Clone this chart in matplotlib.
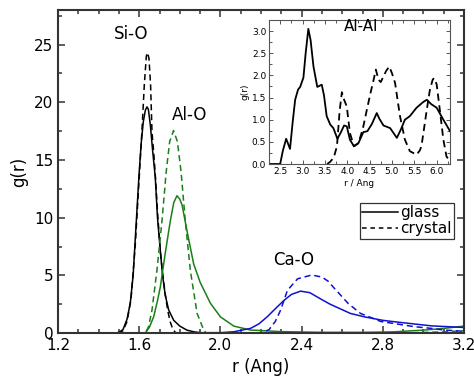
import numpy as np
import matplotlib.pyplot as plt
from matplotlib.ticker import MultipleLocator

# ---- main panel: partial g(r), glass vs crystal ----
sio_glass_r = [1.20, 1.48, 1.50, 1.52, 1.54, 1.556, 1.57, 1.58, 1.59, 1.60, 1.61, 1.62, 1.63, 1.638,
               1.645, 1.655, 1.665, 1.679, 1.69, 1.704, 1.715, 1.728, 1.745, 1.77, 1.80, 1.835, 1.87, 1.90, 1.95, 3.20]
sio_glass_g = [0, 0, 0.05, 0.3, 1.2, 2.6, 5.0, 8.0, 11.0, 14.0, 16.5, 18.3, 19.3, 19.6,
               19.4, 18.0, 16.0, 13.5, 10.0, 7.1, 5.0, 3.3, 2.0, 1.1, 0.6, 0.25, 0.1, 0.03, 0, 0]

sio_cryst_r = [1.20, 1.50, 1.52, 1.54, 1.56, 1.58, 1.60, 1.613, 1.625, 1.635, 1.641, 1.648, 1.656, 1.663,
               1.672, 1.68, 1.69, 1.704, 1.715, 1.727, 1.74, 1.752, 1.765, 1.778, 1.79, 3.20]
sio_cryst_g = [0, 0, 0.2, 1.0, 3.0, 7.5, 13.5, 17.4, 21.5, 24.0, 24.3, 23.8, 21.5, 17.4,
               15.5, 13.5, 10.5, 7.1, 5.2, 3.5, 2.0, 1.0, 0.35, 0.05, 0, 0]

alo_glass_r = [1.20, 1.63, 1.65, 1.671, 1.69, 1.704, 1.728, 1.753, 1.77, 1.786, 1.80, 1.811, 1.836, 1.868,
               1.90, 1.95, 2.00, 2.066, 2.148, 2.30, 2.50, 2.70, 2.85, 3.00, 3.10, 3.20]
alo_glass_g = [0, 0, 0.5, 1.4, 2.8, 4.0, 6.9, 9.7, 11.3, 11.9, 11.6, 11.1, 8.8, 6.0,
               4.4, 2.6, 1.4, 0.6, 0.26, 0.12, 0.06, 0.06, 0.1, 0.25, 0.4, 0.6]

alo_cryst_r = [1.20, 1.63, 1.646, 1.663, 1.687, 1.712, 1.733, 1.75, 1.769, 1.788, 1.806, 1.827, 1.852,
               1.885, 1.918, 1.93, 2.90, 3.10, 3.20]
alo_cryst_g = [0, 0, 0.55, 2.0, 5.4, 9.7, 14.0, 16.6, 17.55, 16.6, 14.0, 9.7, 5.4,
               1.7, 0.25, 0, 0, 0.1, 0.2]

cao_glass_r = [1.20, 2.00, 2.066, 2.148, 2.19, 2.23, 2.27, 2.313, 2.35, 2.395, 2.44, 2.494, 2.54,
               2.64, 2.71, 2.80, 2.87, 3.04, 3.20]
cao_glass_g = [0, 0.03, 0.11, 0.4, 0.8, 1.4, 2.1, 2.83, 3.35, 3.63, 3.5, 2.95, 2.5,
               1.7, 1.4, 1.1, 0.95, 0.62, 0.48]

cao_cryst_r = [1.20, 2.20, 2.24, 2.27, 2.296, 2.33, 2.38, 2.45, 2.50, 2.53, 2.56, 2.63, 2.69, 2.79,
               2.955, 3.04, 3.10, 3.20]
cao_cryst_g = [0, 0, 0.3, 1.0, 1.97, 3.7, 4.7, 5.03, 4.85, 4.5, 3.9, 2.55, 1.7, 1.0,
               0.55, 0.4, 0.26, 0.15]

# ---- inset: Al-Al ----
alal_glass_r = [2.25, 2.50, 2.56, 2.634, 2.72, 2.78, 2.835, 2.90, 2.947, 3.02, 3.07, 3.13, 3.18, 3.245,
                3.33, 3.43, 3.48, 3.54, 3.62, 3.69, 3.78, 3.86, 3.93, 3.99, 4.06, 4.15, 4.25, 4.36,
                4.45, 4.55, 4.66, 4.72, 4.81, 4.96, 5.11, 5.20, 5.29, 5.40, 5.55, 5.70, 5.78, 5.88,
                6.00, 6.15, 6.30]
alal_glass_g = [0, 0, 0.3, 0.57, 0.34, 0.95, 1.45, 1.68, 1.74, 1.95, 2.5, 3.05, 2.8, 2.2,
                1.74, 1.79, 1.55, 1.08, 0.89, 0.81, 0.57, 0.72, 0.87, 0.85, 0.55, 0.4, 0.47, 0.72,
                0.74, 0.9, 1.15, 1.02, 0.87, 0.81, 0.59, 0.78, 1.0, 1.08, 1.27, 1.4, 1.45, 1.35,
                1.27, 1.0, 0.74]

alal_cryst_r = [3.55, 3.62, 3.70, 3.77, 3.83, 3.88, 3.93, 3.99, 4.06, 4.15, 4.25, 4.35, 4.44, 4.52,
                4.59, 4.64, 4.70, 4.75, 4.87, 4.94, 5.00, 5.07, 5.18, 5.29, 5.40, 5.55, 5.62, 5.66,
                5.78, 5.85, 5.91, 5.94, 6.00, 6.07, 6.15, 6.22, 6.30]
alal_cryst_g = [0, 0.05, 0.15, 0.4, 1.2, 1.62, 1.45, 1.3, 0.7, 0.4, 0.47, 0.8, 1.23, 1.6,
                1.9, 2.13, 1.9, 1.85, 2.1, 2.2, 2.05, 1.83, 1.08, 0.55, 0.29, 0.21, 0.3, 0.4,
                1.23, 1.68, 1.9, 1.94, 1.8, 1.23, 0.55, 0.17, 0.06]

dash = (0, (4, 2.5))

fig = plt.figure(figsize=(4.74, 3.85), dpi=100)
ax = fig.add_axes([0.1224, 0.135, 0.8566, 0.839])

ax.plot(sio_glass_r, sio_glass_g, color='black', lw=1.1)
ax.plot(sio_cryst_r, sio_cryst_g, color='black', lw=1.1, ls=dash)
ax.plot(alo_glass_r, alo_glass_g, color='#1a7f1a', lw=1.1)
ax.plot(alo_cryst_r, alo_cryst_g, color='#1a7f1a', lw=1.1, ls=dash)
ax.plot(cao_glass_r, cao_glass_g, color='#1010d0', lw=1.1)
ax.plot(cao_cryst_r, cao_cryst_g, color='#1010d0', lw=1.1, ls=dash)

ax.set_xlim(1.2, 3.2)
ax.set_ylim(0, 28)
ax.xaxis.set_major_locator(MultipleLocator(0.4))
ax.xaxis.set_minor_locator(MultipleLocator(0.1))
ax.yaxis.set_major_locator(MultipleLocator(5))
ax.yaxis.set_minor_locator(MultipleLocator(2.5))
ax.tick_params(which='both', direction='in', top=True, right=True, labelsize=11, width=1.1, color='#333333')
ax.tick_params(which='major', length=5)
ax.tick_params(which='minor', length=3)
for s in ax.spines.values():
    s.set_linewidth(1.5)
    s.set_color('#333333')
ax.set_xlabel('r (Ang)', fontsize=12)
ax.set_ylabel('g(r)', fontsize=12)

ax.text(1.56, 25.9, 'Si-O', fontsize=12, ha='center', va='center')
ax.text(1.85, 18.9, 'Al-O', fontsize=12, ha='center', va='center')
ax.text(2.36, 6.3, 'Ca-O', fontsize=12, ha='center', va='center')

# legend handles
h1, = ax.plot([], [], color='black', lw=1.1, label='glass')
h2, = ax.plot([], [], color='black', lw=1.1, ls=(0, (3, 2.5)), label='crystal')
leg = ax.legend(handles=[h1, h2], loc='upper left', bbox_to_anchor=(0.744, 0.402), fontsize=11,
                frameon=True, fancybox=False, handlelength=2.3, handletextpad=0.2,
                borderpad=0.15, labelspacing=0.05, borderaxespad=0)
leg.get_frame().set_edgecolor('black')
leg.get_frame().set_linewidth(0.9)

# inset
ins = fig.add_axes([0.5675, 0.574, 0.382, 0.374])
ins.plot(alal_glass_r, alal_glass_g, color='black', lw=1.3)
ins.plot(alal_cryst_r, alal_cryst_g, color='black', lw=1.3, ls=dash)
ins.set_xlim(2.25, 6.3)
ins.set_ylim(0, 3.25)
ins.xaxis.set_major_locator(MultipleLocator(0.5))
ins.xaxis.set_minor_locator(MultipleLocator(0.25))
ins.yaxis.set_major_locator(MultipleLocator(0.5))
ins.yaxis.set_minor_locator(MultipleLocator(0.25))
ins.tick_params(which='both', direction='in', top=True, right=True, labelsize=6.5, width=0.7, color='#555555', pad=2)
ins.tick_params(which='major', length=3)
ins.tick_params(which='minor', length=2)
for s in ins.spines.values():
    s.set_linewidth(0.8)
    s.set_color('#555555')
ins.set_xlabel('r / Ang', fontsize=6.5, labelpad=2)
ins.set_ylabel('g(r)', fontsize=6.5, labelpad=2)
ins.text(4.32, 3.1, 'Al-Al', fontsize=11, ha='center', va='center')

fig.savefig('out.png', dpi=100)
